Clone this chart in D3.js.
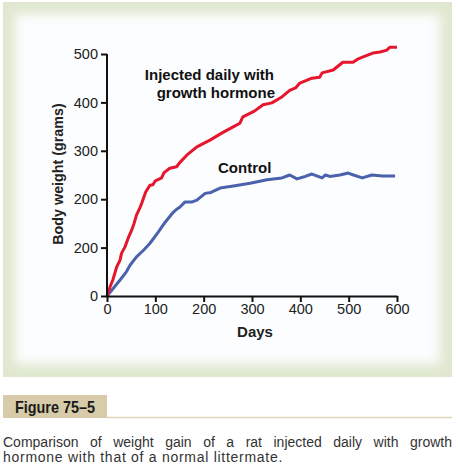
<!DOCTYPE html>
<html>
<head>
<meta charset="utf-8">
<script src="https://cdn.jsdelivr.net/npm/d3@7"></script>
<style>
  body { margin: 0; background: #fff; }
  svg { display: block; }
</style>
</head>
<body>
<div id="chart"></div>
<script>
// days / grams
const hormoneDays = [0, 6, 12, 17, 20, 27, 30, 37, 44, 51, 56, 61, 68, 72, 80, 89, 95, 100, 113, 118, 130, 144, 150, 165, 186, 213, 240, 262, 275, 281, 305, 323, 341, 360, 378, 390, 399, 424, 440, 445, 468, 488, 509, 520, 530, 550, 565, 579, 585, 600];
const hormoneGrams = [0, 18, 33, 50, 60, 74, 88, 101, 120, 136, 150, 167, 182, 192, 215, 229, 230, 238, 244, 255, 264, 267, 275, 291, 308, 322, 338, 350, 357, 370, 382, 395, 399, 410, 425, 430, 440, 450, 452, 461, 467, 483, 483, 490, 494, 502, 504, 508, 514, 514];
const controlDays = [0, 14, 27, 40, 48, 61, 75, 89, 106, 120, 137, 145, 151, 161, 175, 186, 203, 215, 234, 265, 296, 331, 362, 378, 393, 410, 424, 445, 452, 461, 482, 499, 510, 528, 548, 570, 596];
const controlGrams = [0, 17, 33, 50, 64, 81, 94, 109, 132, 152, 173, 180, 184, 194, 194, 198, 212, 214, 223, 228, 233, 240, 244, 250, 242, 247, 252, 244, 250, 247, 250, 254, 250, 244, 250, 248, 248];

const yTicks = [0, 100, 200, 300, 400, 500];
const yTickLabels = ["0", "200", "200", "300", "400", "500"]; // as printed in the figure
const xTicks = [0, 100, 200, 300, 400, 500, 600];

const W = 458, H = 467;
const font = "'Liberation Sans', Arial, sans-serif";

const svg = d3.select("#chart").append("svg")
    .attr("width", W)
    .attr("height", H);

// panel with soft green frame
const defs = svg.append("defs");
defs.append("filter").attr("id", "soft")
    .attr("x", "-10%").attr("y", "-10%").attr("width", "120%").attr("height", "120%")
  .append("feGaussianBlur").attr("stdDeviation", 5.5);

svg.append("rect")
    .attr("x", 3).attr("y", 2)
    .attr("width", 449).attr("height", 375)
    .attr("fill", "#dfe8cf");
svg.append("rect")
    .attr("x", 15).attr("y", 14)
    .attr("width", 425).attr("height", 350)
    .attr("fill", "#fcfdfe")
    .attr("filter", "url(#soft)");

const x = d3.scaleLinear().domain([0, 600]).range([107, 397]);
const y = d3.scaleLinear().domain([0, 500]).range([296, 54]);

const line = d3.line()
    .x(d => x(d[0]))
    .y(d => y(d[1]));

const hormone = hormoneDays.map((d, i) => [d, hormoneGrams[i]]);
const control = controlDays.map((d, i) => [d, controlGrams[i]]);

svg.append("path")
    .datum(control)
    .attr("d", line)
    .attr("fill", "none")
    .attr("stroke", "#4a62ad")
    .attr("stroke-width", 3)
    .attr("stroke-linejoin", "round");

svg.append("path")
    .datum(hormone)
    .attr("d", line)
    .attr("fill", "none")
    .attr("stroke", "#e5162d")
    .attr("stroke-width", 3)
    .attr("stroke-linejoin", "round");

// axes
const yAxis = svg.append("g")
    .attr("transform", "translate(107,0)")
    .call(d3.axisLeft(y).tickValues(yTicks)
        .tickFormat((d, i) => yTickLabels[i])
        .tickSize(6).tickSizeOuter(0).tickPadding(3));

const xAxis = svg.append("g")
    .attr("transform", "translate(0,296)")
    .call(d3.axisBottom(x).tickValues(xTicks)
        .tickSize(6).tickSizeOuter(0).tickPadding(2));

[yAxis, xAxis].forEach(g => {
  g.select(".domain").attr("stroke", "#111").attr("stroke-width", 2);
  g.selectAll(".tick line").attr("stroke", "#111").attr("stroke-width", 2);
  g.selectAll(".tick text")
      .attr("fill", "#222")
      .style("font-family", font)
      .style("font-size", "14.5px");
});
yAxis.select(".domain").attr("d", "M0," + y(500) + "V" + (y(0) + 1));

svg.append("text")
    .attr("transform", "translate(63,174) rotate(-90)")
    .attr("text-anchor", "middle")
    .style("font-family", font)
    .style("font-weight", "bold")
    .style("font-size", "14.3px")
    .attr("fill", "#222")
    .text("Body weight (grams)");

svg.append("text")
    .attr("x", 255).attr("y", 337)
    .attr("text-anchor", "middle")
    .style("font-family", font)
    .style("font-weight", "bold")
    .style("font-size", "15px")
    .attr("fill", "#222")
    .text("Days");

// annotations
const ann = svg.append("g")
    .style("font-family", font)
    .style("font-weight", "bold")
    .style("font-size", "15px")
    .attr("fill", "#111");
ann.append("text").attr("x", 274).attr("y", 80).attr("text-anchor", "end").text("Injected daily with");
ann.append("text").attr("x", 275).attr("y", 98).attr("text-anchor", "end").text("growth hormone");
ann.append("text").attr("x", 218).attr("y", 173).text("Control");

// figure label
svg.append("rect")
    .attr("x", 3).attr("y", 395)
    .attr("width", 104).attr("height", 23)
    .attr("fill", "#d8cba9");
svg.append("line")
    .attr("x1", 107).attr("x2", 452)
    .attr("y1", 417.5).attr("y2", 417.5)
    .attr("stroke", "#e0d5bb")
    .attr("stroke-width", 1.5);
svg.append("text")
    .attr("x", 15).attr("y", 413)
    .attr("textLength", 80).attr("lengthAdjust", "spacingAndGlyphs")
    .style("font-family", font)
    .style("font-weight", "bold")
    .style("font-size", "17px")
    .attr("fill", "#1a1a1a")
    .text("Figure 75\u20135");

// caption, first line justified by word spacing
const cap = svg.append("g")
    .style("font-family", font)
    .style("font-size", "14px")
    .attr("fill", "#333");
const line1 = cap.append("text").attr("x", 3).attr("y", 447)
    .text("Comparison of weight gain of a rat injected daily with growth");
const line2 = cap.append("text").attr("x", 3).attr("y", 462)
    .text("hormone with that of a normal littermate.");
const natural = line1.node().getComputedTextLength();
const gaps = line1.text().split(" ").length - 1;
line1.attr("word-spacing", Math.max(0, (449 - natural) / gaps));
const n2 = line2.text().length;
line2.attr("letter-spacing", Math.max(0, (280 - line2.node().getComputedTextLength()) / n2));
</script>
</body>
</html>
